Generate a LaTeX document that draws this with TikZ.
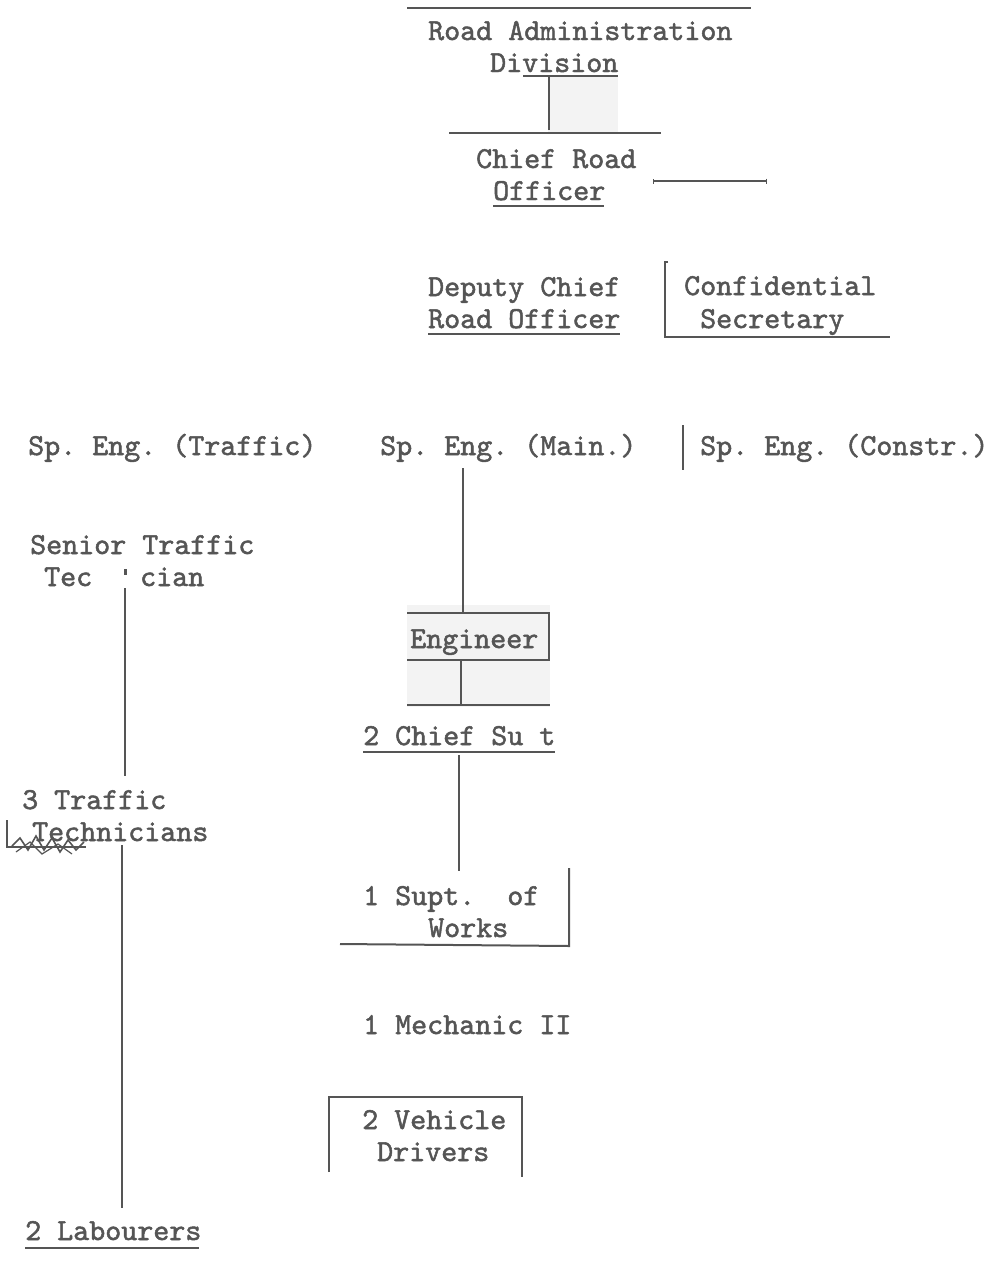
\documentclass[tikz,border=0pt]{standalone}
\usepackage{fontspec}
\newfontfamily\typew{lmmono10-regular}[Extension=.otf,FakeBold=1.6]
\usetikzlibrary{arrows.meta}
\definecolor{ink}{HTML}{555555}
\definecolor{patch}{HTML}{F3F3F3}
\tikzset{
  lbl/.style={anchor=base west,inner sep=0pt,text=ink,
    font=\frenchspacing\typew\fontsize{30.5}{32}\selectfont},
  rule/.style={draw=ink,line width=2pt},
  thin rule/.style={draw=ink,line width=1.4pt}
}
\begin{document}
\begin{tikzpicture}[x=1pt,y=-1pt]
  \useasboundingbox (0,0) rectangle (996,1264);
  % scanned patches
  \fill[patch] (548,75) rectangle (618,133);
  \fill[patch] (407,605) rectangle (550,707);

  % scribble at the technicians
  \draw[rule] (7,820) -- (7,847) -- (86,847);
  \draw[ink,line width=1.6pt] (12,846) -- (20,838) -- (28,850) -- (36,836)
    -- (44,850) -- (52,838) -- (60,852) -- (68,840) -- (76,850) -- (84,842);
  \draw[ink,line width=1.2pt] (16,852) -- (30,842) -- (42,854) -- (58,844) -- (72,854);

  % head of the division
  \node[lbl] (rad1) at (428,40) {Road Administration};
  \node[lbl] (rad2) at (490,72) {Division};
  \node[lbl] (cro1) at (476,168) {Chief Road};
  \node[lbl] (cro2) at (493,200) {Officer};
  \node[lbl] (dcro1) at (428,296) {Deputy Chief};
  \node[lbl] (dcro2) at (428,328) {Road Officer};
  \node[lbl] (conf1) at (684,295) {Confidential};
  \node[lbl] (conf2) at (700,328) {Secretary};

  % specialist engineers
  \node[lbl] (spt) at (28,455) {Sp. Eng. (Traffic)};
  \node[lbl] (spm) at (380,455) {Sp. Eng. (Main.)};
  \node[lbl] (spc) at (700,455) {Sp. Eng. (Constr.)};

  % traffic column
  \node[lbl] (stt1) at (30,554) {Senior Traffic};
  \node[lbl] (stt2) at (44,586) {Tec};
  \node[lbl] (stt3) at (140,586) {cian};
  \node[lbl] (tt1) at (22,809) {3 Traffic};
  \node[lbl] (tt2) at (32,841) {Technicians};
  \node[lbl] (lab) at (25,1240) {2 Labourers};

  % maintenance column
  \node[lbl] (eng) at (410,648) {Engineer};
  \node[lbl] (cs) at (363,745) {2 Chief Su t};
  \node[lbl] (sw1) at (363,905) {1 Supt.\ \ of};
  \node[lbl] (sw2) at (428,937) {Works};
  \node[lbl] (mech) at (363,1034) {1 Mechanic II};
  \node[lbl] (vd1) at (362,1129) {2 Vehicle};
  \node[lbl] (vd2) at (377,1161) {Drivers};

  % connector ends
  \coordinate (divtop) at (549,76);
  \coordinate (divbot) at (549,130);
  \coordinate (spmdn) at (463,468);
  \coordinate (engup) at (463,613);
  \coordinate (engdn) at (461,660);
  \coordinate (csup) at (461,705);
  \coordinate (csdn) at (459,755);
  \coordinate (swup) at (459,871);
  \coordinate (sttdn) at (125,588);
  \coordinate (ttup) at (125,776);
  \coordinate (ttdn) at (122,845);
  \coordinate (labup) at (122,1208);

  % rules and underlines
  \draw[rule] (407,8) -- (751,8);
  \draw[rule] (523,76) -- (618,76);
  \draw[rule] (449,133) -- (661,133);
  \draw[rule] (493,206) -- (604,206);
  \draw[thin rule,{Bar[width=5pt]}-{Bar[width=5pt]}] (653,181) -- (767,181);
  \draw[rule] (428,334) -- (620,334);
  \draw[rule] (668,262) -- (665,262) -- (665,337) -- (890,337);
  \draw[rule] (683,425) -- (683,470);
  \draw[rule] (407,613) -- (549,613) -- (549,660) -- (407,660);
  \draw[rule] (407,705) -- (550,705);
  \draw[rule] (363,752) -- (555,752);
  \draw[rule] (569,868) -- (569,946) -- (340,944);
  \draw[rule] (329,1172) -- (329,1097) -- (522,1097) -- (522,1177);
  \draw[rule] (25,1248) -- (199,1248);
  \fill[ink] (124,569) rectangle (127,575);

  % connectors
  \draw[rule] (divtop) -- (divbot);
  \draw[rule] (spmdn) -- (engup);
  \draw[rule] (engdn) -- (csup);
  \draw[rule] (csdn) -- (swup);
  \draw[rule] (sttdn) -- (ttup);
  \draw[rule] (ttdn) -- (labup);
\end{tikzpicture}
\end{document}
